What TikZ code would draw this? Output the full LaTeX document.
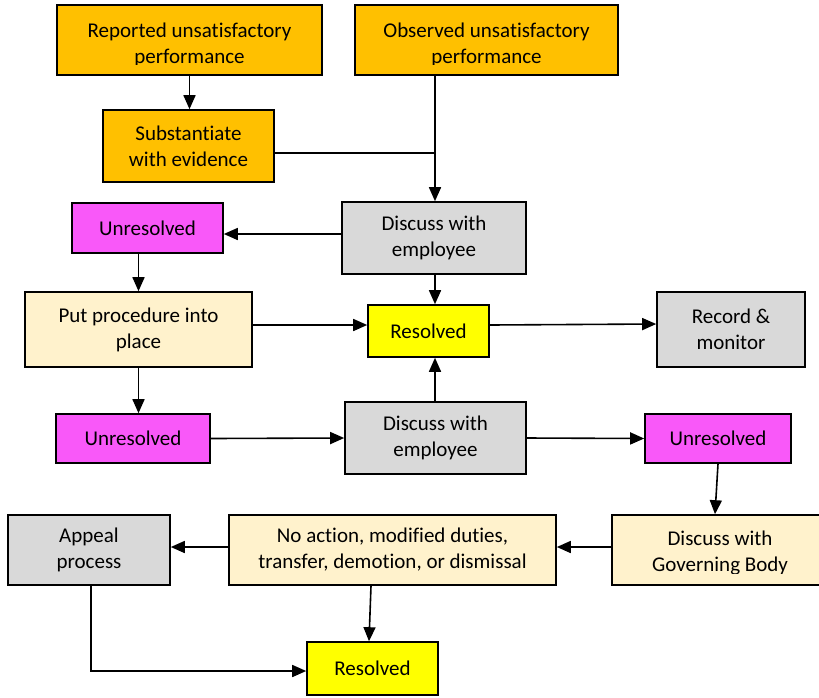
\documentclass[tikz,border=0pt]{standalone}
\usepackage{fontspec}
\setmainfont{Carlito}[Ligatures={NoCommon}]
\usetikzlibrary{arrows.meta,calc}
\definecolor{amber}{RGB}{255,192,0}
\definecolor{pinkbox}{RGB}{249,88,249}
\definecolor{greybox}{RGB}{217,217,217}
\definecolor{creambox}{RGB}{255,242,204}
\definecolor{yellowbox}{RGB}{255,255,0}
\begin{document}
\begin{tikzpicture}[x=1pt,y=-1pt,
  box/.style={draw=black, line width=1.6pt, rectangle, inner sep=0pt,
    align=center, font=\fontsize{21}{26}\selectfont},
  flow/.style={line width=1.6pt, -{Triangle[length=14pt,width=12pt]}},
  plain/.style={line width=1.6pt},
  label/.style={align=center, font=\fontsize{21}{26}\selectfont, inner sep=0pt}]
\clip (0,0) rectangle (819,697);
\fill[white] (0,0) rectangle (819,697);

% top row: sources of the complaint
\node[box, fill=amber, minimum width=265pt, minimum height=70pt] (rep) at (189.5,40) {};
\node[box, fill=amber, minimum width=263pt, minimum height=70pt] (obs) at (486.5,40) {};
\begin{scope}
  \clip (57,5) rectangle (322,64);
  \node[label] (reptext) at (189.5,45) {Reported unsatisfactory\\performance};
\end{scope}
\begin{scope}
  \clip (355,5) rectangle (618,64);
  \node[label] (obstext) at (486.5,45) {Observed unsatisfactory\\performance};
\end{scope}

\node[box, fill=amber, minimum width=171pt, minimum height=72pt] (sub) at (188.5,146) {Substantiate\\with evidence};

% first discussion
\node[box, fill=pinkbox, minimum width=151pt, minimum height=50pt] (un1) at (147.5,228) {Unresolved};
\node[box, fill=greybox, minimum width=184pt, minimum height=72pt] (dis1) at (434,238) {Discuss with\\employee};
\node[box, fill=creambox, minimum width=227pt, minimum height=75pt] (put) at (138.5,329.5) {Put procedure into\\place};
\node[box, fill=yellowbox, minimum width=121pt, minimum height=52pt] (res1) at (428.5,331) {Resolved};
\node[box, fill=greybox, minimum width=148pt, minimum height=75pt] (rec) at (731,329.5) {Record \&\\monitor};

% second discussion
\node[box, fill=pinkbox, minimum width=154pt, minimum height=49pt] (un2) at (133,438.5) {Unresolved};
\node[box, fill=greybox, minimum width=181pt, minimum height=72pt] (dis2) at (435.5,438) {Discuss with\\employee};
\node[box, fill=pinkbox, minimum width=146pt, minimum height=49pt] (un3) at (718,438.5) {Unresolved};

% escalation
\node[box, fill=creambox, minimum width=216pt, minimum height=70pt] (gov) at (720,550) {};
\begin{scope}
  \clip (612,515) rectangle (830,573);
  \node[label] (govtext) at (720,553) {Discuss with\\Governing Body};
\end{scope}
\node[box, fill=creambox, minimum width=327pt, minimum height=70pt] (noa) at (392.5,550) {No action, modified duties,\\transfer, demotion, or dismissal};
\node[box, fill=greybox, minimum width=162pt, minimum height=70pt] (app) at (89,550) {Appeal\\process};
\node[box, fill=yellowbox, minimum width=131pt, minimum height=53pt] (res2) at (372.5,668.5) {Resolved};

% connectors
\coordinate (join) at (435,153);
\draw[flow] (rep.south) -- (rep.south |- sub.north);
\draw[flow] (obs.south -| join) -- (join |- dis1.north);
\draw[plain] (sub.east |- join) -- (join);
\draw[flow] (dis1.west |- un1.east) ++(0,6) -- ($(un1.east)+(0,6)$);
\draw[flow] (un1.south -| put.north) -- (put.north);
\draw[flow] (dis1.south -| join) -- (join |- res1.north);
\draw[flow] (put.east |- res1.west) ++(0,-6) -- ($(res1.west)+(0,-6)$);
\draw[flow] (res1.east) ++(0,-6) -- ($(rec.west)+(0,-5.5)$);
\draw[flow] (put.south) -- (put.south |- un2.north);
\draw[flow] (un2.east) -- (dis2.west);
\draw[flow] (dis2.north -| join) -- (join |- res1.south);
\draw[flow] (dis2.east) -- (un3.west);
\draw[flow] (un3.south) -- ($(gov.north)+(-5,0)$);
\draw[flow] (gov.west |- noa.east) ++(0,-3) -- ($(noa.east)+(0,-3)$);
\draw[flow] (noa.west) ++(0,-3) -- ($(app.east)+(0,-3)$);
\draw[flow] ($(noa.south)+(-21.5,0)$) -- ($(res2.north)+(-3.5,0)$);
\coordinate (bend) at (91,671);
\draw[flow] (app.south -| bend) -- (bend) -- (bend -| res2.west);
\end{tikzpicture}
\end{document}
